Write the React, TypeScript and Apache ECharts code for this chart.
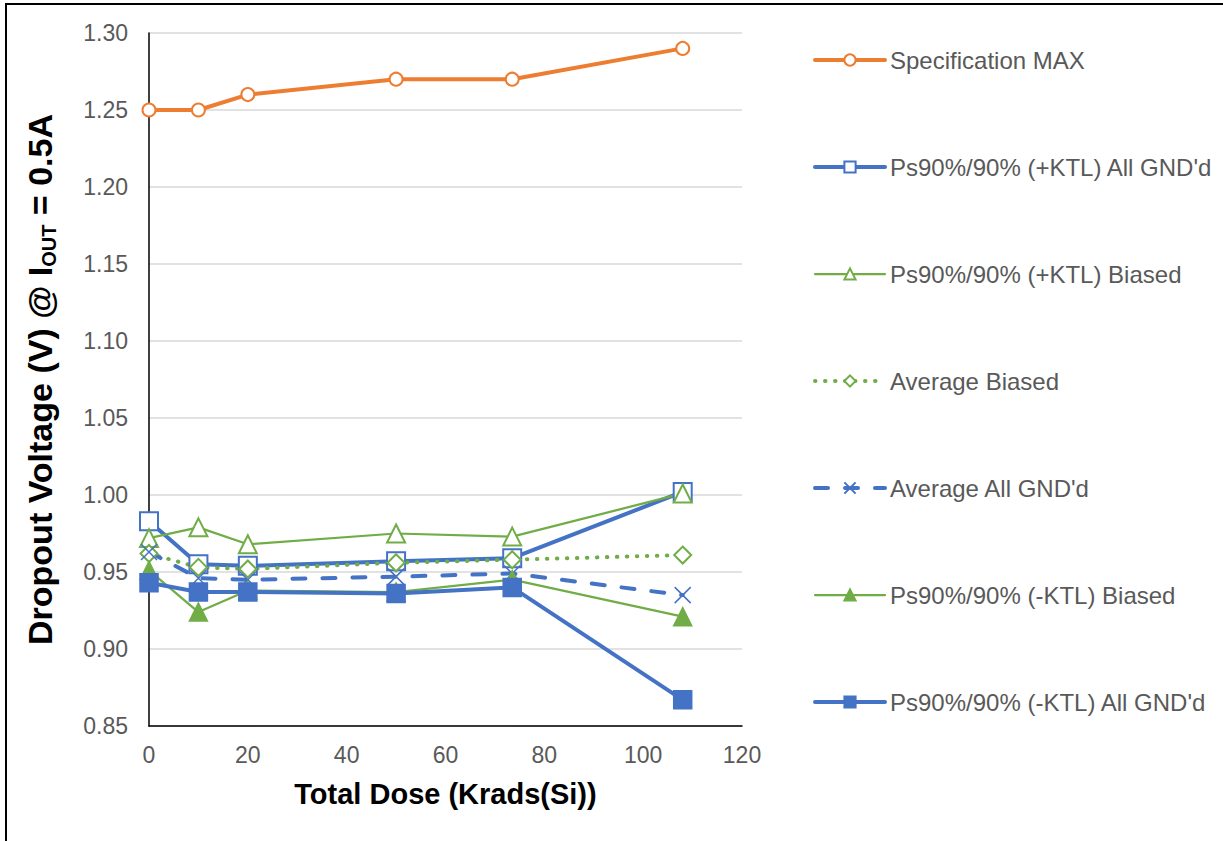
import React, { useEffect, useRef } from "react";
import * as echarts from "echarts";

const doseValues = [0, 10, 20, 50, 73.5, 108];
const specMax = [1.25, 1.25, 1.26, 1.27, 1.27, 1.29];
const plusKtlGnd = [0.983, 0.955, 0.954, 0.957, 0.959, 1.002];
const plusKtlBiased = [0.972, 0.979, 0.968, 0.975, 0.973, 1.001];
const avgBiased = [0.962, 0.953, 0.952, 0.956, 0.958, 0.961];
const avgGnd = [0.963, 0.946, 0.945, 0.947, 0.949, 0.935];
const minusKtlBiased = [0.951, 0.924, 0.938, 0.937, 0.945, 0.921];
const minusKtlGnd = [0.943, 0.937, 0.937, 0.936, 0.940, 0.867];

const seriesNames = [
  "Specification MAX",
  "Ps90%/90% (+KTL) All GND'd",
  "Ps90%/90% (+KTL) Biased",
  "Average Biased",
  "Average All GND'd",
  "Ps90%/90% (-KTL) Biased",
  "Ps90%/90% (-KTL) All GND'd",
];

const ORANGE = "#ED7D31";
const BLUE = "#4472C4";
const GREEN = "#70AD47";
const FONT = "'Liberation Sans', Arial, sans-serif";

const pairs = (ys: number[]) => doseValues.map((x, i) => [x, ys[i]]);

export default function App() {
  const ref = useRef<HTMLDivElement>(null);
  useEffect(() => {
    if (!ref.current) return;
    const chart = echarts.init(ref.current, undefined, { renderer: "svg" });
    const specs = [
      { ys: specMax, color: ORANGE, width: 4, type: "solid", symbol: "emptyCircle", size: 13 },
      { ys: plusKtlGnd, color: BLUE, width: 4, type: "solid", symbol: "emptyRect", size: 18 },
      { ys: plusKtlBiased, color: GREEN, width: 2.25, type: "solid", symbol: "emptyTriangle", size: 18 },
      { ys: avgBiased, color: GREEN, width: 4, type: [0.5, 9.5], symbol: "emptyDiamond", size: 17 },
      { ys: avgGnd, color: BLUE, width: 4, type: [13, 17], symbol: "path://M0,0L10,10M10,0L0,10", size: 16 },
      { ys: minusKtlBiased, color: GREEN, width: 2.25, type: "solid", symbol: "triangle", size: 18 },
      { ys: minusKtlGnd, color: BLUE, width: 4, type: "solid", symbol: "rect", size: 18 },
    ];
    const series = specs.map((s, i) => ({
      name: seriesNames[i],
      type: "line",
      data: pairs(s.ys),
      symbol: s.symbol,
      symbolSize: s.size,
      showSymbol: true,
      lineStyle: { color: s.color, width: s.width, type: s.type, cap: "round" },
      itemStyle: { color: s.color, borderColor: s.color, borderWidth: 1.5 },
      emphasis: { disabled: true },
      z: 2,
    }));
    const legendData = specs.map((s, i) => ({
      name: seriesNames[i],
      lineStyle: { width: s.width, color: s.color, type: s.type, cap: "round" },
    }));
    chart.setOption({
      animation: false,
      textStyle: { fontFamily: FONT },
      graphic: [
        {
          type: "rect",
          shape: { x: 6, y: 4, width: 1400, height: 1000 },
          style: { fill: "none", stroke: "#000", lineWidth: 2 },
          silent: true,
        },
      ],
      grid: { left: 149, right: 481, top: 33, bottom: 115 },
      legend: {
        orient: "vertical",
        left: 813,
        top: 48,
        padding: 0,
        itemWidth: 70,
        itemHeight: 14,
        itemGap: 83,
        data: legendData,
        textStyle: { fontSize: 24, color: "#595959", fontFamily: FONT },
      },
      xAxis: {
        type: "value",
        min: 0,
        max: 120,
        interval: 20,
        splitLine: { show: false },
        axisTick: { show: false },
        axisLine: { show: true, lineStyle: { color: "#000", width: 1.5 } },
        axisLabel: { color: "#595959", fontSize: 23, margin: 17, fontFamily: FONT },
        name: "Total Dose (Krads(Si))",
        nameLocation: "middle",
        nameGap: 53,
        nameTextStyle: { fontSize: 29, fontWeight: "bold", color: "#000", fontFamily: FONT },
      },
      yAxis: {
        type: "value",
        min: 0.85,
        max: 1.3,
        interval: 0.05,
        splitLine: { show: true, lineStyle: { color: "#d9d9d9", width: 1.5 } },
        axisTick: { show: false },
        axisLine: { show: true, lineStyle: { color: "#000", width: 1.5 } },
        axisLabel: {
          color: "#595959",
          fontSize: 23,
          margin: 21,
          fontFamily: FONT,
          formatter: (v: number) => v.toFixed(2),
        },
        name: "Dropout Voltage (V) @ I{sub|OUT} = 0.5A",
        nameLocation: "middle",
        nameRotate: 90,
        nameGap: 90,
        nameTextStyle: {
          fontSize: 34,
          fontWeight: "bold",
          color: "#000",
          fontFamily: FONT,
          rich: {
            sub: {
              fontSize: 20,
              fontWeight: "bold",
              color: "#000",
              fontFamily: FONT,
              verticalAlign: "bottom",
              padding: [19, 0, 0, 0],
            },
          },
        },
      },
      series,
    });
    return () => chart.dispose();
  }, []);
  return (
    <div style={{ position: "fixed", left: 0, top: 0, width: 1223, height: 841, background: "#fff" }}>
      <div ref={ref} style={{ width: 1223, height: 841 }} />
    </div>
  );
}
